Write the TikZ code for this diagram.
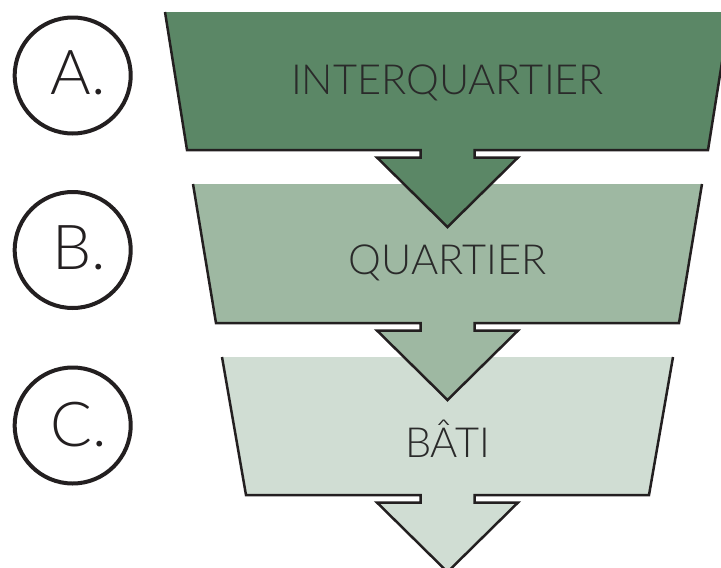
\documentclass[tikz,border=0pt]{standalone}
\usepackage{fontspec}
\setmainfont{TeX Gyre Heros}
\newfontfamily\lightfont{Lato}[UprightFont={* Light}]
\definecolor{gA}{HTML}{5B8766}
\definecolor{gB}{HTML}{9EB8A2}
\definecolor{gC}{HTML}{D0DDD3}
\definecolor{ink}{HTML}{231F20}
\definecolor{txt}{HTML}{2A2A2A}
\newcommand{\stagepath}[6]{%
  % #1 fill, #2 ytop, #3 ybot, #4 half top, #5 half bottom, #6 cx
  \path[fill=#1, draw=ink, line width=2.5pt]
    (#6+#4,#2) -- (#6+#5,#3) -- (#6+27,#3) -- (#6+27,#3+7.5) -- (#6+70.5,#3+7.5)
    -- (#6,#3+77) -- (#6-70.5,#3+7.5) -- (#6-27,#3+7.5) -- (#6-27,#3)
    -- (#6-#5,#3) -- (#6-#4,#2);
}
\begin{document}
\begin{tikzpicture}[x=1pt,y=-1pt,
  ring/.style={circle, draw=ink, line width=4pt, minimum size=116pt, inner sep=0pt},
  rlabel/.style={font=\lightfont\fontsize{62}{62}\selectfont, text=ink, anchor=base, inner sep=0pt},
  slabel/.style={font=\lightfont\fontsize{41.5}{41.5}\selectfont, text=txt, anchor=base, inner sep=0pt}]
\useasboundingbox (0,0) rectangle (721,568);
\clip (0,0) rectangle (721,568);
\fill[white] (0,0) rectangle (721,568);
% stages, lowest first so upper arrows overlap
\stagepath{gC}{357}{495}{225.5}{201.5}{447.5}
\stagepath{gB}{184}{323}{254.5}{231.5}{447.5}
\stagepath{gA}{12}{150}{282.5}{260.5}{447.5}
\node[slabel] (sa) at (447.5,94) {INTERQUARTIER};
\node[slabel] (sb) at (447.5,274) {QUARTIER};
\node[slabel] (sc) at (447.5,457) {BÂTI};
% circles
\node[ring] (ca) at (72.7,75.5) {};
\node[ring] (cb) at (72.7,250) {};
\node[ring] (cc) at (72.7,425.5) {};
\node[rlabel] (la) at (78,94) {A.};
\node[rlabel] (lb) at (79,269) {B.};
\node[rlabel] (lc) at (79,446) {C.};
\end{tikzpicture}
\end{document}
